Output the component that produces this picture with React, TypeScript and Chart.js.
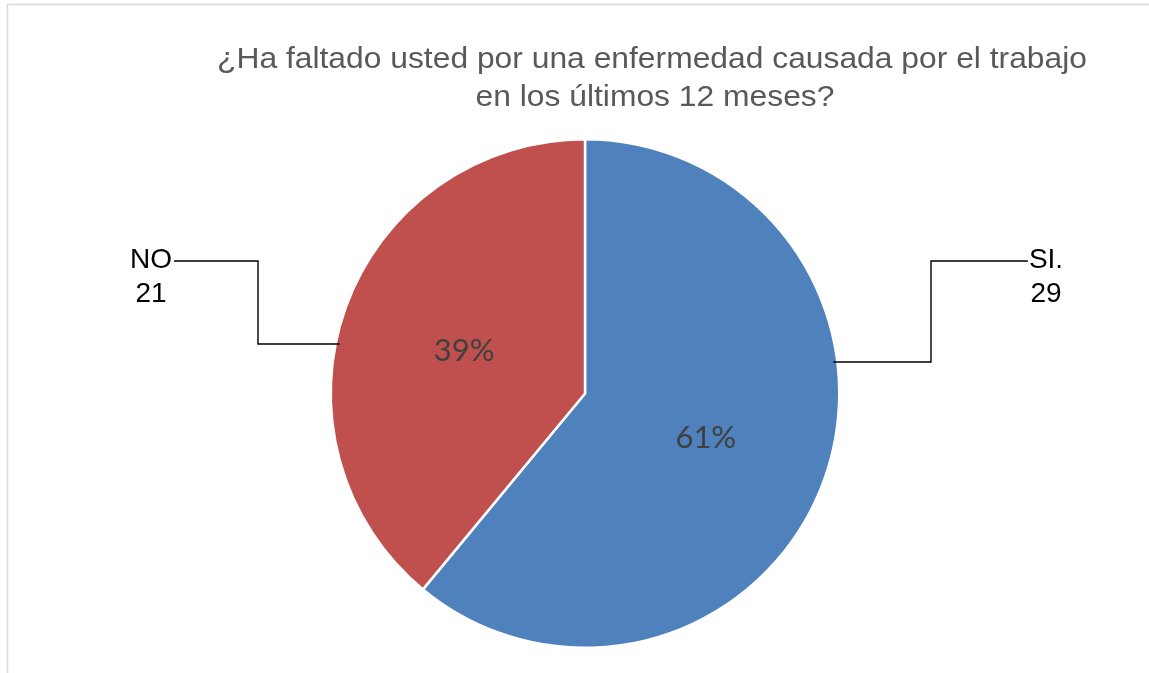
import React, { useEffect, useRef } from "react";
import { Chart, registerables } from "chart.js";

Chart.register(...registerables);

const TITLE_LINES = [
  "¿Ha faltado usted por una enfermedad causada por el trabajo",
  "en los últimos 12 meses?",
];
const CATEGORIES = ["SI.", "NO"];
const COUNTS = [29, 21];
const PERCENTAGES = [61, 39];
const COLORS = ["#4F81BD", "#C0504D"];

const W = 1149;
const H = 673;

// label layout (positions only, no data)
const LABEL_LAYOUT = [
  { cx: 1046, baseline: 268, elbowX: 931, topY: 261, anchorY: 362, side: "right" },
  { cx: 151, baseline: 268, elbowX: 258, topY: 261, anchorY: 344, side: "left" },
];

function drawStretched(ctx: CanvasRenderingContext2D, text: string, x: number, y: number, sx: number) {
  ctx.save();
  ctx.translate(x, y);
  ctx.scale(sx, 1);
  ctx.fillText(text, 0, 0);
  ctx.restore();
}

const overlayPlugin = {
  id: "overlay",
  afterDraw(chart: any) {
    const ctx = chart.ctx as CanvasRenderingContext2D;
    ctx.save();

    // frame
    ctx.strokeStyle = "#d9d9d9";
    ctx.lineWidth = 1.5;
    ctx.beginPath();
    ctx.moveTo(7.5, H);
    ctx.lineTo(7.5, 4.5);
    ctx.lineTo(W, 4.5);
    ctx.stroke();

    // title
    ctx.fillStyle = "#595959";
    ctx.font = '29px "Liberation Sans", Arial, sans-serif';
    ctx.textAlign = "center";
    ctx.textBaseline = "alphabetic";
    const tw = ctx.measureText(TITLE_LINES[0]).width;
    const sx = 870 / tw;
    drawStretched(ctx, TITLE_LINES[0], 652, 68, sx);
    drawStretched(ctx, TITLE_LINES[1], 655, 106, sx);

    const meta = chart.getDatasetMeta(0);
    meta.data.forEach((arc: any, i: number) => {
      const p = arc.getProps(["x", "y", "startAngle", "endAngle", "outerRadius"], true);
      const mid = (p.startAngle + p.endAngle) / 2;
      const rr = p.outerRadius * 0.505;
      const lx = p.x + Math.cos(mid) * rr;
      const ly = p.y + Math.sin(mid) * rr;
      ctx.fillStyle = "#404040";
      ctx.font = '31px Lato, "Open Sans", sans-serif';
      ctx.textAlign = "center";
      ctx.textBaseline = "alphabetic";
      ctx.fillText(PERCENTAGES[i] + "%", lx, ly + 11);

      // outside category label
      const L = LABEL_LAYOUT[i];
      ctx.fillStyle = "#000000";
      ctx.font = '28px "Liberation Sans", Arial, sans-serif';
      const t1 = CATEGORIES[i];
      const t2 = String(COUNTS[i]);
      ctx.fillText(t1, L.cx, L.baseline);
      ctx.fillText(t2, L.cx, L.baseline + 34);
      const w1 = ctx.measureText(t1).width;

      const dy = L.anchorY - p.y;
      const dx = Math.sqrt(Math.max(0, p.outerRadius * p.outerRadius - dy * dy)) - 4;
      ctx.strokeStyle = "#000000";
      ctx.lineWidth = 1.4;
      ctx.beginPath();
      if (L.side === "right") {
        ctx.moveTo(L.cx - w1 / 2 - 1, L.topY);
        ctx.lineTo(L.elbowX, L.topY);
        ctx.lineTo(L.elbowX, L.anchorY);
        ctx.lineTo(p.x + dx, L.anchorY);
      } else {
        ctx.moveTo(L.cx + w1 / 2 + 2, L.topY);
        ctx.lineTo(L.elbowX, L.topY);
        ctx.lineTo(L.elbowX, L.anchorY);
        ctx.lineTo(p.x - dx, L.anchorY);
      }
      ctx.stroke();
    });

    ctx.restore();
  },
};

export default function App() {
  const ref = useRef<HTMLCanvasElement | null>(null);
  useEffect(() => {
    if (!ref.current) return;
    const chart = new Chart(ref.current, {
      type: "pie",
      data: {
        labels: CATEGORIES,
        datasets: [
          {
            data: PERCENTAGES,
            backgroundColor: COLORS,
            borderColor: "#ffffff",
            borderWidth: 2.5,
            hoverOffset: 0,
          },
        ],
      },
      options: {
        responsive: false,
        animation: false,
        devicePixelRatio: 1,
        events: [],
        layout: { padding: { left: 329.5, right: 308.5, top: 138, bottom: 24 } },
        plugins: {
          legend: { display: false },
          title: { display: false },
          tooltip: { enabled: false },
        },
      },
      plugins: [overlayPlugin],
    });
    return () => chart.destroy();
  }, []);
  return (
    <div style={{ position: "absolute", left: 0, top: 0, width: W, height: H, background: "#ffffff" }}>
      <canvas ref={ref} width={W} height={H} style={{ display: "block" }} />
    </div>
  );
}
